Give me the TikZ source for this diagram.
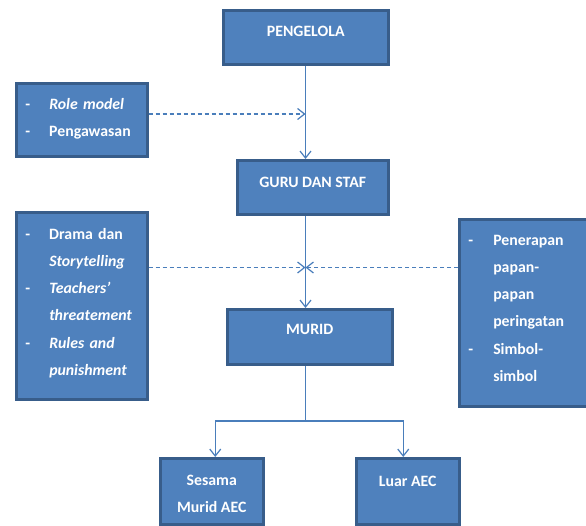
\documentclass[tikz,border=0pt]{standalone}
\usepackage{fontspec}
\setmainfont{Carlito}
\usepackage{tikz}
\usetikzlibrary{arrows.meta,positioning}

\definecolor{boxfill}{HTML}{4F81BD}
\definecolor{boxline}{HTML}{385D8A}
\definecolor{linkcol}{HTML}{4A7EBB}

\begin{document}
\begin{tikzpicture}[x=1pt, y=-1pt, >={Straight Barb[length=7pt,width=11pt]},
    box/.style={draw=boxline, fill=boxfill, line width=2.5pt, text=white,
      anchor=north west, inner sep=0pt, font=\fontsize{15.8}{27.2}\selectfont\bfseries},
    listbox/.style={box, inner xsep=9pt, align=left},
    link/.style={draw=linkcol, line width=1.2pt},
    hint/.style={link, dash pattern=on 4pt off 3pt}]
    \useasboundingbox (0,0) rectangle (586,525);
    \clip (0,0) rectangle (586,525);
    \fill[white] (0,0) rectangle (586,525);

    % main chain
    \node[box, minimum width=165pt, text height=26pt, text depth=28pt] (pengelola) at (222,9) {PENGELOLA};
    \node[box, minimum width=151pt, text height=27pt, text depth=27pt] (guru) at (236,159) {GURU DAN STAF};
    \node[box, minimum width=165pt, text height=25pt, text depth=30pt] (murid) at (226,308) {MURID};
    \node[box, minimum width=103pt, text height=27pt, text depth=39pt] (sesama) at (159,457)
      {\begin{tabular}[t]{@{}c@{}}Sesama\\Murid AEC\end{tabular}};
    \node[box, minimum width=103pt, text height=28pt, text depth=38pt] (luar) at (355,457) {Luar AEC};

    % side boxes
    \node[listbox, text width=113pt, text height=26pt, text depth=47pt] (peran) at (15,82)
      {\begin{tabular}[t]{@{}p{24pt}@{}l@{}}
        - & \textit{Role model}\\
        - & Pengawasan
      \end{tabular}};
    \node[listbox, text width=113pt, text height=27pt, text depth=160pt] (metode) at (15,211)
      {\begin{tabular}[t]{@{}p{24pt}@{}l@{}}
        - & Drama dan\\
          & \textit{Storytelling}\\
        - & \textit{Teachers’}\\
          & \textit{threatement}\\
        - & \textit{Rules and}\\
          & \textit{punishment}
      \end{tabular}};
    \node[listbox, text width=114pt, text height=26pt, text depth=161pt] (simbol) at (458,218)
      {\begin{tabular}[t]{@{}p{25pt}@{}l@{}}
        - & Penerapan\\
          & papan-\\
          & papan\\
          & peringatan\\
        - & Simbol-\\
          & simbol
      \end{tabular}};

    % connectors
    \coordinate (spine) at (305.5,0);
    \coordinate (tap) at (305.5,114);
    \coordinate (cross) at (305.5,267.5);
    \coordinate (fork) at (305.5,421);

    \draw[link, ->] (pengelola.south -| spine) -- (guru.north -| spine);
    \draw[link, ->] (guru.south -| spine) -- (murid.north -| spine);
    \draw[hint, ->] (peran.east |- tap) -- (tap);
    \draw[hint, ->] (metode.east |- cross) -- (cross);
    \draw[hint, ->] (simbol.west |- cross) -- (cross);
    \draw[link] (murid.south -| spine) -- (fork);
    \draw[link, ->] (fork) -| ([xshift=3.5pt]sesama.north);
    \draw[link, ->] (fork) -| ([xshift=-4.5pt]luar.north);
\end{tikzpicture}
\end{document}
